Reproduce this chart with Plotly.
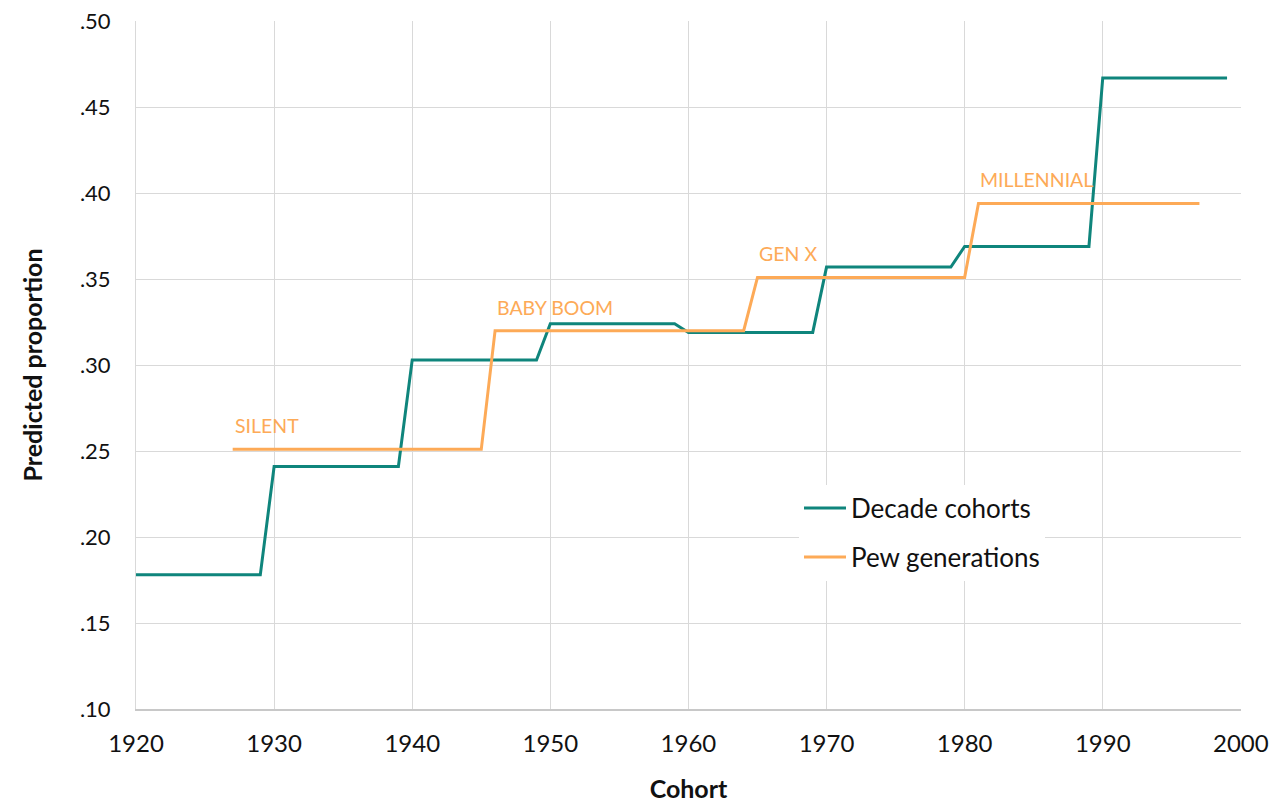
import plotly.graph_objects as go

# Decade cohorts: segment start year, end year, predicted proportion
decade_start = [1920, 1930, 1940, 1950, 1960, 1970, 1980, 1990]
decade_end = [1929, 1939, 1949, 1959, 1969, 1979, 1989, 1999]
decade_value = [0.178, 0.241, 0.303, 0.324, 0.319, 0.357, 0.369, 0.467]

# Pew generations
pew_names = ["SILENT", "BABY BOOM", "GEN X", "MILLENNIAL"]
pew_start = [1927, 1946, 1965, 1981]
pew_end = [1945, 1964, 1980, 1997]
pew_value = [0.251, 0.320, 0.351, 0.394]

y_ticks = [0.10, 0.15, 0.20, 0.25, 0.30, 0.35, 0.40, 0.45, 0.50]
y_labels = [".10", ".15", ".20", ".25", ".30", ".35", ".40", ".45", ".50"]
x_ticks = [1920, 1930, 1940, 1950, 1960, 1970, 1980, 1990, 2000]

TEAL = "#0f857c"
ORANGE = "#fdaa57"
FONT = "Lato, 'Open Sans', sans-serif"


def steps(starts, ends, values):
    xs, ys = [], []
    for s, e, v in zip(starts, ends, values):
        xs += [s, e]
        ys += [v, v]
    return xs, ys


dx, dy = steps(decade_start, decade_end, decade_value)
px_, py_ = steps(pew_start, pew_end, pew_value)

fig = go.Figure()
fig.add_trace(go.Scatter(x=dx, y=dy, mode="lines", name="Decade cohorts",
                         line=dict(color=TEAL, width=3), legendgroup="a"))
fig.add_trace(go.Scatter(x=px_, y=py_, mode="lines", name="Pew generations",
                         line=dict(color=ORANGE, width=3), legendgroup="b"))

for name, s, v in zip(pew_names, pew_start, pew_value):
    fig.add_annotation(x=s, y=v, text=name, showarrow=False, xanchor="left",
                       yanchor="bottom", yshift=10, xshift=0,
                       font=dict(family=FONT, size=19.5, color=ORANGE))

fig.update_layout(
    width=1279, height=804,
    margin=dict(l=128, r=46, t=13, b=103, autoexpand=False),
    paper_bgcolor="white", plot_bgcolor="white",
    font=dict(family=FONT, size=24, color="#111111"),
    showlegend=True,
    legend=dict(x=0.60, y=0.326, xanchor="left", yanchor="top",
                bgcolor="white", font=dict(family=FONT, size=26, color="#111111"),
                tracegroupgap=12, itemwidth=42, traceorder="grouped"),
    xaxis=dict(range=[1920, 2000.01], tickvals=x_ticks, showgrid=True,
               gridcolor="#d9d9d9", gridwidth=1, showline=True,
               linecolor="#c8c8c8", linewidth=1.5, zeroline=False,
               ticks="", ticklabelstandoff=12, ticklabeloverflow="allow",
               automargin=False,
               title=dict(text="<b>Cohort</b>", font=dict(family=FONT, size=25),
                          standoff=25)),
    yaxis=dict(range=[0.10, 0.5001], tickvals=y_ticks, ticktext=y_labels,
               showgrid=True, gridcolor="#d9d9d9", gridwidth=1,
               showline=True, linecolor="#d9d9d9", zeroline=False, ticks="",
               ticklabelstandoff=20, ticklabeloverflow="allow",
               tickfont=dict(family=FONT, size=22, color="#111111"),
               automargin=False,
               title=dict(text="<b>Predicted proportion</b>",
                          font=dict(family=FONT, size=25), standoff=30)),
)

fig.write_html("out.html")
